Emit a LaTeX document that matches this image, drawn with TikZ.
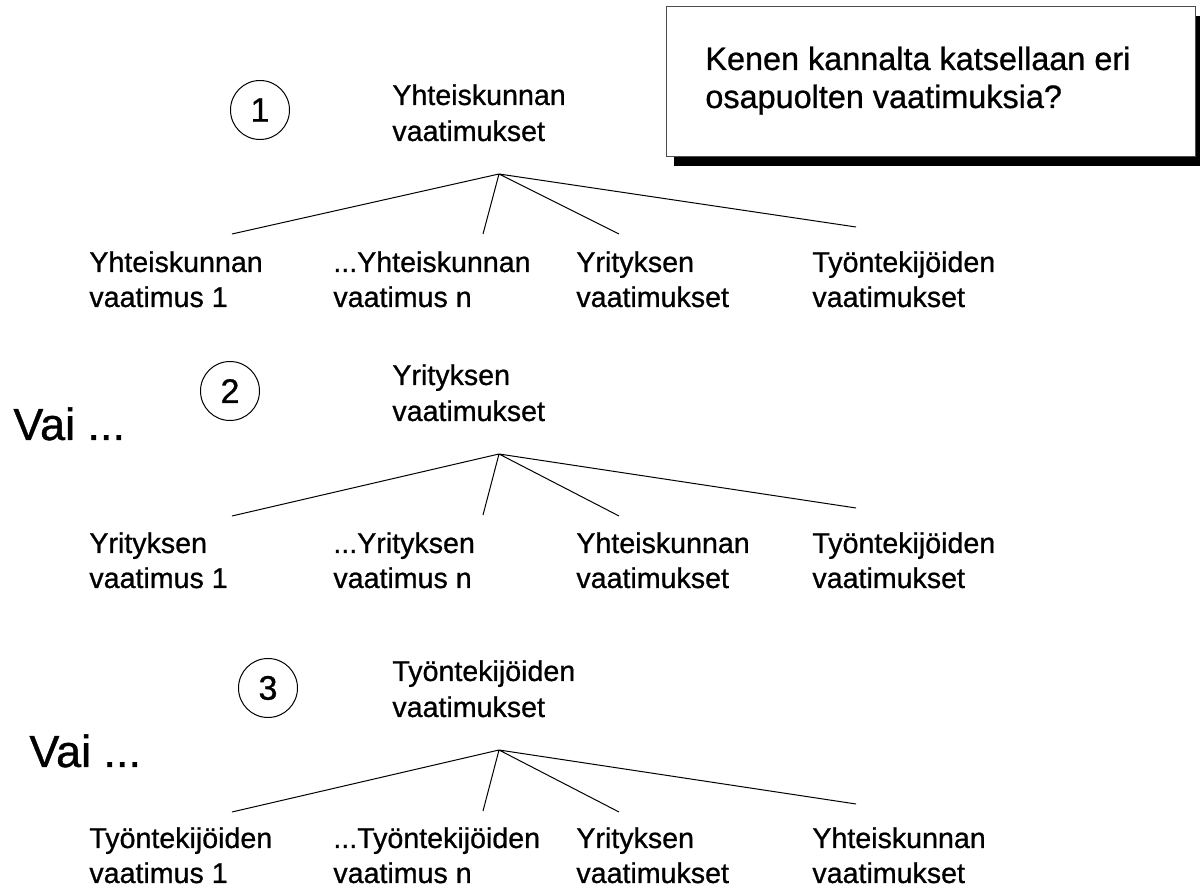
\documentclass[tikz,border=0pt]{standalone}
\usepackage{fontspec}
\setmainfont{Liberation Sans}[FakeBold=0.8]
\begin{document}
\begin{tikzpicture}[x=0.5pt,y=-0.5pt,
  lbl/.style={anchor=base west,inner sep=0pt,align=left,font=\fontsize{14.3pt}{17.5pt}\selectfont},
  toplbl/.style={anchor=base west,inner sep=0pt,align=left,font=\fontsize{14.3pt}{18pt}\selectfont},
  numc/.style={circle,draw,line width=0.5pt,minimum size=29.5pt,inner sep=0pt,font=\fontsize{17pt}{20pt}\selectfont},
  vai/.style={anchor=base west,inner sep=0pt,font=\fontsize{22.5pt}{26pt}\selectfont},
  conn/.style={line width=0.5pt}]
\useasboundingbox (0,0) rectangle (1200,886);
% question box with shadow (base anchor = last line baseline)
\fill[black] (674,16) rectangle (1203,166);
\filldraw[fill=white,draw=black!70,line width=0.5pt] (666,7) rectangle (1195,157);
\node[anchor=base west,inner sep=0pt,align=left,font=\fontsize{16.2pt}{19pt}\selectfont] (q) at (705,108) {Kenen kannalta katsellaan eri\\osapuolten vaatimuksia?};

% ---- Row 1
\node[numc] (c1) at (260,110) {1};
\node[toplbl] (t1) at (392,141) {Yhteiskunnan\\vaatimukset};
\coordinate (a1) at (499,174);
\coordinate (e11) at (232,234);
\coordinate (e12) at (483,234);
\coordinate (e13) at (619,234);
\coordinate (e14) at (856,227);
\node[lbl] (k11) at (89,307) {Yhteiskunnan\\vaatimus 1};
\node[lbl] (k12) at (333,307) {...Yhteiskunnan\\vaatimus n};
\node[lbl] (k13) at (576,307) {Yrityksen\\vaatimukset};
\node[lbl] (k14) at (812,307) {Työntekijöiden\\vaatimukset};
\draw[conn] (a1) -- (e11) (a1) -- (e12) (a1) -- (e13) (a1) -- (e14);

% ---- Row 2
\node[vai] (v2) at (13,440) {Vai ...};
\node[numc] (c2) at (230,391) {2};
\node[toplbl] (t2) at (392,421) {Yrityksen\\vaatimukset};
\coordinate (a2) at (499,454);
\coordinate (e21) at (232,516);
\coordinate (e22) at (483,515);
\coordinate (e23) at (619,516);
\coordinate (e24) at (856,508);
\node[lbl] (k21) at (89,588) {Yrityksen\\vaatimus 1};
\node[lbl] (k22) at (333,588) {...Yrityksen\\vaatimus n};
\node[lbl] (k23) at (576,588) {Yhteiskunnan\\vaatimukset};
\node[lbl] (k24) at (812,588) {Työntekijöiden\\vaatimukset};
\draw[conn] (a2) -- (e21) (a2) -- (e22) (a2) -- (e23) (a2) -- (e24);

% ---- Row 3
\node[vai] (v3) at (29,767) {Vai ...};
\node[numc] (c3) at (268,688) {3};
\node[toplbl] (t3) at (392,717) {Työntekijöiden\\vaatimukset};
\coordinate (a3) at (499,750);
\coordinate (e31) at (232,812);
\coordinate (e32) at (483,811);
\coordinate (e33) at (619,812);
\coordinate (e34) at (856,804);
\node[lbl] (k31) at (89,883) {Työntekijöiden\\vaatimus 1};
\node[lbl] (k32) at (333,883) {...Työntekijöiden\\vaatimus n};
\node[lbl] (k33) at (576,883) {Yrityksen\\vaatimukset};
\node[lbl] (k34) at (812,883) {Yhteiskunnan\\vaatimukset};
\draw[conn] (a3) -- (e31) (a3) -- (e32) (a3) -- (e33) (a3) -- (e34);
\end{tikzpicture}
\end{document}
